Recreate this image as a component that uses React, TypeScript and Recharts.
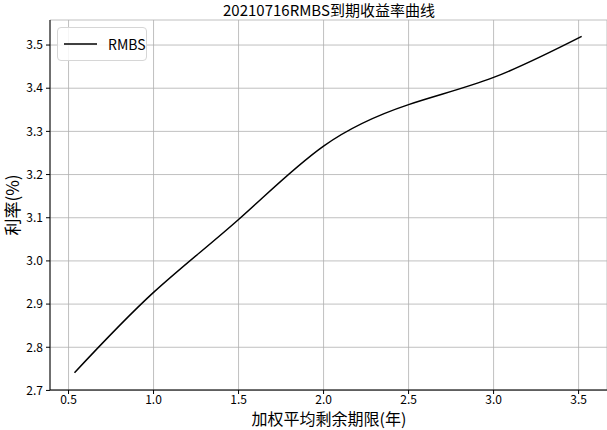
import React from 'react';
import { LineChart, Line, XAxis, YAxis, CartesianGrid } from 'recharts';

const maturities = [0.535, 1.0, 1.5, 2.0, 2.5, 3.0, 3.518];
const rates = [2.741, 2.927, 3.096, 3.266, 3.362, 3.425, 3.52];
const xTicks = [0.5, 1.0, 1.5, 2.0, 2.5, 3.0, 3.5];
const yTicks = [2.7, 2.8, 2.9, 3.0, 3.1, 3.2, 3.3, 3.4, 3.5];
const seriesName = 'RMBS';
const title = '20210716RMBS到期收益率曲线';
const xLabel = '加权平均剩余期限(年)';
const yLabel = '利率(%)';

const data = maturities.map((m, i) => ({ x: m, rate: rates[i] }));

const FONT = '"Noto Sans CJK SC", "DejaVu Sans", sans-serif';
const tickStyle = { fontSize: 12, fill: '#000', fontFamily: FONT };

const LegendBox = () => (
  <div
    style={{
      position: 'absolute',
      left: 57,
      top: 27,
      width: 90,
      height: 34,
      border: '1px solid #d6d6d6',
      borderRadius: 4,
      background: 'rgba(255,255,255,0.85)',
      display: 'flex',
      alignItems: 'center',
      fontFamily: FONT,
      fontSize: 14,
      color: '#000',
      boxSizing: 'border-box',
    }}
  >
    <svg width={50} height={10} style={{ display: 'block' }}>
      <line x1={6} y1={5} x2={39} y2={5} stroke="#000" strokeWidth={1.5} />
    </svg>
    <span>{seriesName}</span>
  </div>
);

export default function App() {
  return (
    <div style={{ position: 'absolute', left: 0, top: 0, width: 607, height: 430, background: '#fff' }}>
      <div
        style={{
          position: 'absolute',
          left: 50,
          width: 558,
          top: 0,
          textAlign: 'center',
          fontFamily: FONT,
          fontSize: 15,
          lineHeight: '19px',
          color: '#000',
        }}
      >
        {title}
      </div>
      <div
        style={{
          position: 'absolute',
          left: 12,
          top: 205,
          transform: 'translate(-50%, -50%) rotate(-90deg)',
          fontFamily: FONT,
          fontSize: 17,
          lineHeight: '18px',
          whiteSpace: 'nowrap',
          color: '#000',
        }}
      >
        {yLabel}
      </div>
      <div
        style={{
          position: 'absolute',
          left: 50,
          width: 558,
          top: 409,
          textAlign: 'center',
          fontFamily: FONT,
          fontSize: 16,
          lineHeight: '18px',
          whiteSpace: 'nowrap',
          color: '#000',
          zIndex: 1,
        }}
      >
        {xLabel}
      </div>
      <div style={{ position: 'absolute', left: 0, top: 0 }}>
        <LineChart width={607} height={430} data={data} margin={{ top: 20, right: 0, left: 0, bottom: 0 }}>
          <CartesianGrid stroke="#b0b0b0" strokeWidth={0.8} />
          <XAxis
            dataKey="x"
            type="number"
            domain={[0.391, 3.667]}
            ticks={xTicks}
            allowDataOverflow
            tickFormatter={(v: number) => v.toFixed(1)}
            tick={tickStyle}
            tickSize={4}
            tickMargin={1}
            height={40}
            axisLine={{ stroke: '#000', strokeWidth: 1 }}
            tickLine={{ stroke: '#000', strokeWidth: 1 }}
          />
          <XAxis
            xAxisId="top"
            dataKey="x"
            type="number"
            orientation="top"
            domain={[0.391, 3.667]}
            allowDataOverflow
            tick={false}
            tickLine={false}
            height={0}
            axisLine={{ stroke: '#000', strokeWidth: 1 }}
          />
          <YAxis
            type="number"
            domain={[2.701, 3.558]}
            ticks={yTicks}
            allowDataOverflow
            tickFormatter={(v: number) => v.toFixed(1)}
            tick={tickStyle}
            tickSize={4}
            tickMargin={3}
            width={50}
            axisLine={{ stroke: '#000', strokeWidth: 1 }}
            tickLine={{ stroke: '#000', strokeWidth: 1 }}
          />
          <Line
            type="natural"
            dataKey="rate"
            name={seriesName}
            stroke="#000"
            strokeWidth={1.5}
            dot={false}
            isAnimationActive={false}
          />
        </LineChart>
      </div>
      <LegendBox />
    </div>
  );
}
